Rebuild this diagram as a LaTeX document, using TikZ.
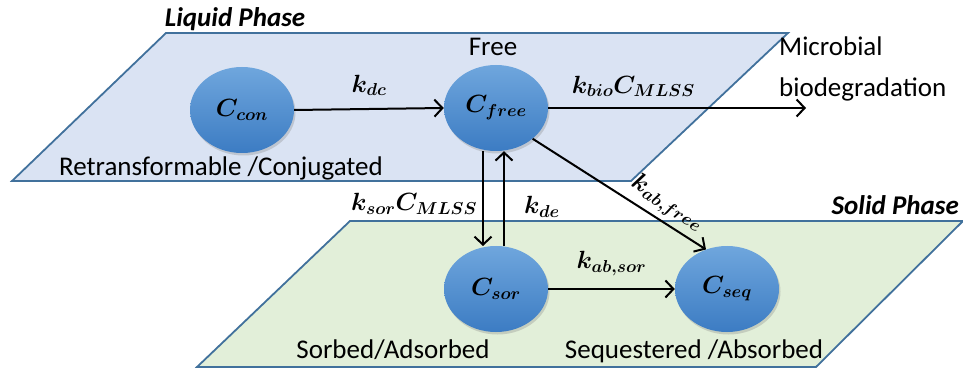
\documentclass[tikz,border=0pt]{standalone}
\usepackage{amsmath,bm}
\usepackage{fontspec}
\setmainfont{Carlito}
\usetikzlibrary{arrows.meta,shadows,shapes.geometric}
\definecolor{liqfill}{HTML}{DAE3F3}
\definecolor{solfill}{HTML}{E2EFD9}
\definecolor{planeedge}{HTML}{41719C}
\definecolor{balltop}{HTML}{6FA6DD}
\definecolor{ballbot}{HTML}{3C7CC3}
\tikzset{
  plane/.style={draw=planeedge, line width=1.8pt},
  ball/.style={ellipse, minimum width=104pt, minimum height=86pt, inner sep=0pt,
    top color=balltop, bottom color=ballbot, draw=none,
    font=\fontsize{23}{26}\selectfont,
    drop shadow={opacity=0.3, shadow xshift=1.5pt, shadow yshift=-2.5pt}},
  flow/.style={line width=2pt, -{Straight Barb[length=8pt,width=17pt,line width=2pt]}},
  lbl/.style={font=\fontsize{27}{31}\selectfont, inner sep=0pt},
  rate/.style={font=\fontsize{23}{26}\selectfont, inner sep=0pt},
  phase/.style={font=\fontsize{27}{31}\selectfont\bfseries\itshape, inner sep=0pt}
}
\begin{document}
\begin{tikzpicture}[x=1pt,y=-1pt]
\useasboundingbox (0,0) rectangle (963,371);
% planes
\path[plane, fill=solfill] (350,221) -- (963,221) -- (816,367) -- (197,367) -- cycle;
\path[plane, fill=liqfill] (166,33) -- (788,33) -- (631,181) -- (12,181) -- cycle;
\node[phase, anchor=base] (lp) at (235,27) {Liquid Phase};
\node[phase, anchor=base east] (sp) at (959,215) {Solid Phase};
% nodes
\node[ball] (con) at (242,110) {$\bm{C}_{\bm{con}}$};
\node[ball] (free) at (496,108) {$\bm{C}_{\bm{free}}$};
\node[ball] (sor) at (496,289) {$\bm{C}_{\bm{sor}}$};
\node[ball] (seq) at (727,289) {$\bm{C}_{\bm{seq}}$};
\node[lbl, anchor=base] (tfree) at (493,56) {Free};
\node[lbl, anchor=base] (tret) at (221,176) {Retransformable /Conjugated};
\node[lbl, anchor=base] (tsor) at (393,358) {Sorbed/Adsorbed};
\node[lbl, anchor=base] (tseq) at (694,358) {Sequestered /Absorbed};
\node[lbl, anchor=base west] (mic) at (779,56) {Microbial};
\node[lbl, anchor=base west] (bio) at (779,97) {biodegradation};
\coordinate (bioend) at (806,108);
% connectors
\draw[flow] (con.east) -- (free.west) node[rate, midway, above=12pt] {$\bm{k}_{\bm{dc}}$};
\draw[flow] (free.east) -- (bioend) node[rate, pos=0.33, above=10pt] {$\bm{k}_{\bm{bio}}\bm{C}_{\bm{MLSS}}$};
\draw[flow] ([xshift=-13pt]free.south) -- ([xshift=-13pt]sor.north|-0,246);
\draw[flow] ([xshift=8pt]sor.north|-0,246) -- ([xshift=8pt]free.south);
\node[rate] (ksor) at (414,204) {$\bm{k}_{\bm{sor}}\bm{C}_{\bm{MLSS}}$};
\node[rate] (kde) at (542,207) {$\bm{k}_{\bm{de}}$};
\draw[flow] (free.-40) -- (seq.118) node[rate, sloped, pos=0.72, above=5pt] {$\bm{k}_{\bm{ab,free}}$};
\draw[flow] (sor.east) -- (seq.west) node[rate, midway, above=12pt] {$\bm{k}_{\bm{ab,sor}}$};
\end{tikzpicture}
\end{document}
